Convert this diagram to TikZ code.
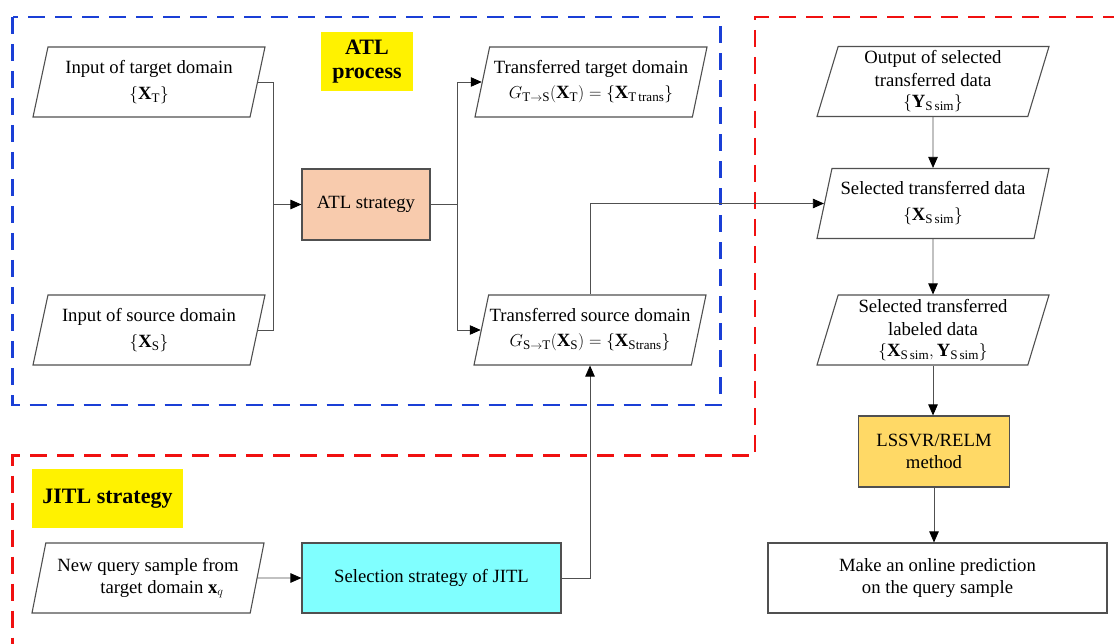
\documentclass[tikz,border=0pt]{standalone}
\usepackage{fontspec}
\setmainfont{Liberation Serif}
\usetikzlibrary{shapes.geometric,arrows.meta}
\definecolor{peach}{HTML}{F8CBAD}
\definecolor{gold}{HTML}{FFD966}
\definecolor{cyanbox}{HTML}{80FFFF}
\definecolor{bluedash}{HTML}{1A3FD6}
\definecolor{reddash}{HTML}{F01010}
\definecolor{edge}{HTML}{505050}
\newcommand{\xb}{\mathbf{X}}
\newcommand{\yb}{\mathbf{Y}}
\newcommand{\rmsub}[1]{\mathrm{#1}}
\begin{document}
\begin{tikzpicture}[x=1pt,y=-1pt,
  every node/.style={font=\fontsize{18.7}{22}\selectfont, align=center, inner sep=0pt},
  para/.style={trapezium, trapezium left angle=71, trapezium right angle=109,
     trapezium stretches body, draw=edge, line width=1.1pt, fill=white,
     minimum width=232pt, minimum height=70pt},
  boxr/.style={rectangle, draw=edge, line width=1.1pt},
  tag/.style={rectangle, fill=yellow, font=\fontsize{22}{25}\selectfont\bfseries},
  conn/.style={draw=edge, line width=0.8pt},
  arr/.style={conn, -{Triangle[length=11pt,width=9.5pt,black]}},
  bluereg/.style={draw=bluedash, line width=2.6pt, dash pattern=on 17pt off 10pt},
  redreg/.style={draw=reddash, line width=2.6pt, dash pattern=on 17pt off 10pt}
]
\useasboundingbox (0,0) rectangle (1114,644);

% regions
\draw[bluereg] (12.5,17) rectangle (720.5,405);
\draw[redreg] (1120,17) -- (755,17) -- (755,455.5) -- (12.5,455.5) -- (12.5,646) -- (1120,646);

% tags
\node[tag, minimum width=92pt, minimum height=59pt] (atltag) at (367,61.5) {ATL\\[-1pt]process};
\node[tag, minimum width=151pt, minimum height=59pt] (jitltag) at (107.5,498.5) {JITL strategy};

% left column
\node[para] (tin) at (149,82) {Input of target domain\\[4pt] $\left\{\xb_{\rmsub{T}}\right\}$};
\node[para] (sin) at (149,330) {Input of source domain\\[4pt] $\left\{\xb_{\rmsub{S}}\right\}$};
\node[para] (nq) at (148,578) {New query sample from\\ \hspace*{28pt}target domain $\mathbf{x}_q$};

% middle
\node[boxr, fill=peach, minimum width=128pt, minimum height=71pt] (atl) at (366,204.5) {ATL strategy};
\node[boxr, fill=cyanbox, minimum width=259pt, minimum height=70pt] (sj) at (431.5,578) {Selection strategy of JITL};

\node[para] (tt) at (591,82) {Transferred target domain\\[3pt] $G_{\rmsub{T}\to\rmsub{S}}(\xb_{\rmsub{T}})=\left\{\xb_{\rmsub{T\,trans}}\right\}$};
\node[para] (ts) at (590,330) {Transferred source domain\\[3pt] $G_{\rmsub{S}\to\rmsub{T}}(\xb_{\rmsub{S}})=\left\{\xb_{\rmsub{Strans}}\right\}$};

% right column
\node[para] (out) at (933,81.5) {Output of selected\\[1pt] transferred data\\[-1pt] $\left\{\yb_{\rmsub{S\,sim}}\right\}$};
\node[para] (sel) at (933,203.5) {Selected transferred data\\[4pt] $\left\{\xb_{\rmsub{S\,sim}}\right\}$};
\node[para] (lab) at (933,330) {Selected transferred\\[1pt] labeled data\\[-1pt] $\left\{\xb_{\rmsub{S\,sim}},\yb_{\rmsub{S\,sim}}\right\}$};
\node[boxr, fill=gold, minimum width=151pt, minimum height=71pt] (lss) at (934,451.5) {LSSVR/RELM\\ method};
\node[boxr, fill=white, minimum width=339pt, minimum height=70pt] (mk) at (937.5,578) {Make an online prediction\\ on the query sample};

% connectors
\coordinate (jl) at (273,204.5);
\coordinate (jr) at (457,204.5);
\draw[conn] (tin.east) -| (jl);
\draw[conn] (sin.east) -| (jl);
\draw[arr] (jl) -- (atl.west);
\draw[conn] (atl.east) -- (jr);
\draw[arr] (jr) |- (tt.west);
\draw[arr] (jr) |- (ts.west);
\draw[arr] (ts.north) |- (sel.west);
\draw[arr] (nq.east) -- (sj.west);
\draw[arr] (sj.east) -| (ts.south);
\draw[arr] (out.south) -- (sel.north);
\draw[arr] (sel.south) -- (lab.north);
\draw[arr] (lab.south) -- (lab.south |- lss.north);
\draw[arr] (lss.south) -- (lss.south |- mk.north);
\end{tikzpicture}
\end{document}
